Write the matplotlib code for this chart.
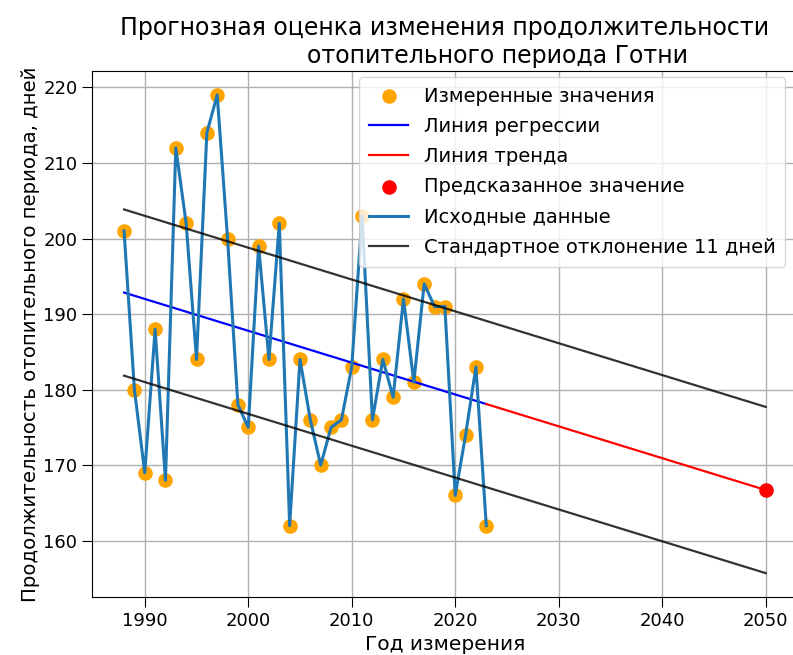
import numpy as np
import matplotlib
matplotlib.use('Agg')
from matplotlib import pyplot as plt

years = [1988, 1989, 1990, 1991, 1992, 1993, 1994, 1995, 1996, 1997, 1998, 1999,
         2000, 2001, 2002, 2003, 2004, 2005, 2006, 2007, 2008, 2009, 2010, 2011,
         2012, 2013, 2014, 2015, 2016, 2017, 2018, 2019, 2020, 2021, 2022, 2023]
days = [201, 180, 169, 188, 168, 212, 202, 184, 214, 219, 200, 178,
        175, 199, 184, 202, 162, 184, 176, 170, 175, 176, 183, 203,
        176, 184, 179, 192, 181, 194, 191, 191, 166, 174, 183, 162]
forecast_year = 2050
std_days = 11

title = ('Прогнозная оценка изменения продолжительности\n'
         + ' ' * 14 + 'отопительного периода Готни')

x = np.array(years)
y = np.array(days)
k, b = np.polyfit(x, y, 1)
pred = k * forecast_year + b

fig = plt.figure(figsize=(7.93, 6.55), dpi=100)
ax = fig.add_axes([0.116, 0.0885, 0.89, 0.803])

h1 = ax.scatter(x, y, color='orange', s=90, label='Измеренные значения')
h2, = ax.plot(x, k * x + b, color='blue', lw=1.6, label='Линия регрессии')
xt = np.array([years[-1], forecast_year])
h3, = ax.plot(xt, k * xt + b, color='red', lw=1.6, label='Линия тренда')
h4 = ax.scatter([forecast_year], [pred], color='red', s=90, label='Предсказанное значение')
h5, = ax.plot(x, y, color='tab:blue', lw=2.2, label='Исходные данные')
xs = np.array([years[0], forecast_year])
h6, = ax.plot(xs, k * xs + b + std_days, color='black', alpha=0.8, lw=1.6,
              label='Стандартное отклонение 11 дней')
ax.plot(xs, k * xs + b - std_days, color='black', alpha=0.8, lw=1.6)

ax.grid(True, color='#b0b0b0', lw=1)
ax.set_axisbelow(True)
ax.tick_params(labelsize=13, length=7)
ax.set_xlabel('Год измерения', fontsize=14.5)
ax.set_ylabel('Продолжительность отопительного периода, дней', fontsize=14.2, labelpad=2)
ax.set_title(title, fontsize=17)
ax.legend(handles=[h1, h2, h3, h4, h5, h6], loc='upper right', fontsize=14,
          borderaxespad=0, bbox_to_anchor=(0.982, 0.989), labelspacing=0.58,
          borderpad=0.5)

fig.savefig('out.png', dpi=100)
